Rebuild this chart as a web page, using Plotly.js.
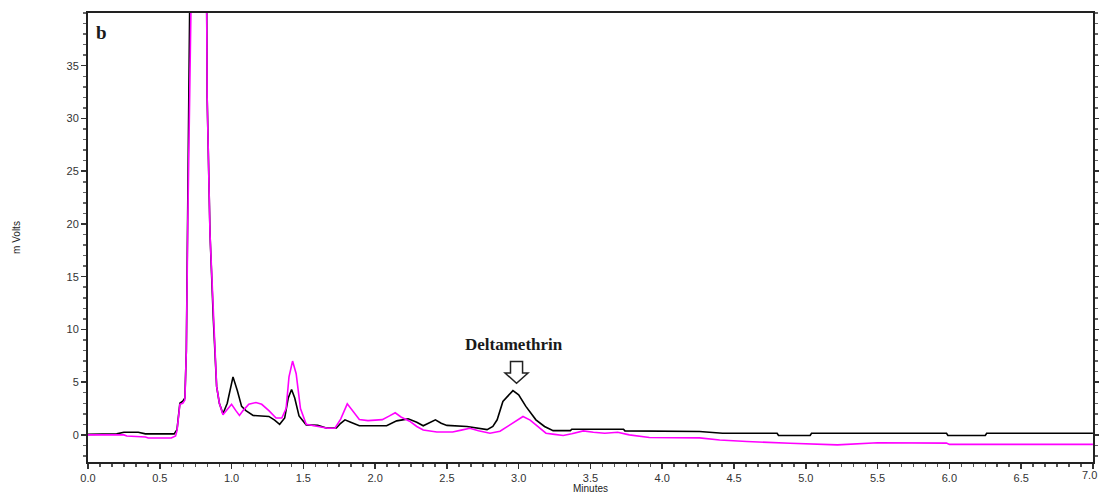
<!DOCTYPE html>
<html>
<head>
<meta charset="utf-8">
<script src="https://cdn.plot.ly/plotly-3.0.1.min.js"></script>
<style>
  html, body { margin: 0; padding: 0; background: #fff; }
  #chart { width: 1099px; height: 494px; }
</style>
</head>
<body>
<div id="chart"></div>
<script>
// Black trace (sample) – minutes / mVolts
const blackTime = [0.0, 0.2, 0.25, 0.35, 0.4, 0.6, 0.62, 0.64, 0.66, 0.675, 0.685, 0.695, 0.705, 0.715, 0.76, 0.825, 0.83, 0.85, 0.873, 0.885, 0.896, 0.915, 0.94, 0.97, 1.01, 1.04, 1.07, 1.1, 1.15, 1.26, 1.30, 1.335, 1.37, 1.395, 1.418, 1.44, 1.47, 1.52, 1.6, 1.66, 1.73, 1.76, 1.79, 1.83, 1.89, 2.08, 2.15, 2.23, 2.29, 2.335, 2.38, 2.42, 2.46, 2.5, 2.64, 2.75, 2.78, 2.82, 2.85, 2.89, 2.96, 3.0, 3.05, 3.12, 3.18, 3.24, 3.36, 3.37, 3.73, 3.74, 4.26, 4.42, 4.8, 4.81, 5.03, 5.04, 5.98, 5.99, 6.25, 6.26, 7.0];
const blackVolts = [0.05, 0.1, 0.25, 0.25, 0.1, 0.1, 0.5, 3.0, 3.2, 3.5, 8, 20, 35, 50, 80, 45, 32, 19, 11, 7, 4.6, 3.0, 2.0, 3.0, 5.5, 4.2, 2.7, 2.3, 1.85, 1.75, 1.4, 1.0, 1.6, 3.5, 4.3, 3.5, 1.8, 0.95, 0.9, 0.65, 0.65, 1.1, 1.43, 1.2, 0.86, 0.86, 1.33, 1.52, 1.2, 0.86, 1.2, 1.43, 1.1, 0.9, 0.8, 0.55, 0.5, 0.8, 1.43, 3.17, 4.2, 3.8, 2.7, 1.43, 0.8, 0.4, 0.4, 0.54, 0.54, 0.38, 0.32, 0.16, 0.16, -0.06, -0.06, 0.16, 0.16, -0.06, -0.06, 0.16, 0.16];

// Magenta trace (standard) – minutes / mVolts
const magentaTime = [0.0, 0.25, 0.27, 0.4, 0.42, 0.58, 0.61, 0.62, 0.64, 0.66, 0.675, 0.685, 0.695, 0.705, 0.715, 0.76, 0.825, 0.83, 0.85, 0.873, 0.885, 0.896, 0.915, 0.94, 0.97, 1.0, 1.03, 1.055, 1.08, 1.12, 1.17, 1.21, 1.26, 1.31, 1.35, 1.38, 1.40, 1.425, 1.45, 1.48, 1.52, 1.57, 1.62, 1.67, 1.72, 1.76, 1.806, 1.85, 1.89, 1.95, 2.05, 2.1, 2.14, 2.18, 2.24, 2.29, 2.335, 2.43, 2.54, 2.6, 2.66, 2.72, 2.8, 2.87, 2.92, 2.95, 3.03, 3.08, 3.12, 3.19, 3.25, 3.31, 3.37, 3.45, 3.52, 3.6, 3.69, 3.77, 3.91, 4.14, 4.26, 4.4, 4.59, 4.89, 5.22, 5.5, 5.98, 6.0, 7.0];
const magentaVolts = [0.0, 0.0, -0.1, -0.2, -0.3, -0.3, -0.1, 0.4, 2.9, 3.0, 3.3, 8, 20, 35, 50, 80, 45, 32, 19, 11, 7, 4.6, 3.0, 1.9, 2.4, 2.9, 2.3, 1.85, 2.3, 2.9, 3.07, 2.9, 2.3, 1.6, 1.6, 2.5, 5.5, 7.0, 5.8, 2.5, 1.0, 0.9, 0.8, 0.63, 0.63, 1.5, 2.94, 2.2, 1.45, 1.35, 1.45, 1.8, 2.1, 1.7, 1.3, 0.8, 0.47, 0.28, 0.28, 0.45, 0.63, 0.4, 0.16, 0.35, 0.8, 1.1, 1.74, 1.4, 0.95, 0.16, 0.05, -0.06, 0.1, 0.38, 0.25, 0.16, 0.25, 0.0, -0.25, -0.25, -0.28, -0.48, -0.63, -0.79, -0.95, -0.75, -0.78, -0.9, -0.9];

const xTickVals = [0.0, 0.5, 1.0, 1.5, 2.0, 2.5, 3.0, 3.5, 4.0, 4.5, 5.0, 5.5, 6.0, 6.5, 7.0];
const xTickText = ['0.0', '0.5', '1.0', '1.5', '2.0', '2.5', '3.0', '3.5', '4.0', '4.5', '5.0', '5.5', '6.0', '6.5', '7.0'];
const yTickVals = [0, 5, 10, 15, 20, 25, 30, 35];

const peakLabel = 'Deltamethrin';
const peakTime = 2.985;
const panelLabel = 'b';

const traces = [
  { x: blackTime, y: blackVolts, type: 'scatter', mode: 'lines',
    line: { color: '#000000', width: 1.6 }, hoverinfo: 'x+y', showlegend: false },
  { x: magentaTime, y: magentaVolts, type: 'scatter', mode: 'lines',
    line: { color: '#ff00ff', width: 1.6 }, hoverinfo: 'x+y', showlegend: false }
];

// hollow down arrow drawn in data coordinates around the labelled peak
const sw = 0.042, hw = 0.08, yTop = 6.97, yNeck = 5.87, yTip = 4.9;
const arrowPath = `M ${peakTime - sw} ${yTop} L ${peakTime + sw} ${yTop} L ${peakTime + sw} ${yNeck} ` +
  `L ${peakTime + hw} ${yNeck} L ${peakTime} ${yTip} L ${peakTime - hw} ${yNeck} L ${peakTime - sw} ${yNeck} Z`;

const tickFont = { family: 'Liberation Sans, Arial, sans-serif', size: 11, color: '#333333' };

// last x tick label is drawn as an annotation so it stays inside the page
const nLast = xTickText.length - 1;
const shownTickText = xTickText.map((t, i) => (i === nLast ? '' : t));

const layout = {
  width: 1099, height: 494,
  margin: { l: 88, r: 6, t: 13, b: 32 },
  paper_bgcolor: '#ffffff', plot_bgcolor: '#ffffff',
  showlegend: false,
  xaxis: {
    range: [0, 7.0005], tickvals: xTickVals, ticktext: shownTickText,
    ticks: 'outside', ticklen: 5, tickwidth: 1.5, tickcolor: '#333',
    showline: true, linecolor: '#222', linewidth: 2, mirror: true,
    showgrid: false, zeroline: false, tickfont: tickFont,
    minor: { dtick: 0.0833333, ticks: 'outside', ticklen: 3, tickcolor: '#555', showgrid: false },
    title: { text: 'Minutes', font: { family: 'Liberation Sans, Arial, sans-serif', size: 10, color: '#222' }, standoff: 5 }
  },
  yaxis: {
    range: [-2.57, 40.0], tickvals: yTickVals,
    ticks: 'outside', ticklen: 5, tickwidth: 1.5, tickcolor: '#333',
    showline: true, linecolor: '#222', linewidth: 2, mirror: 'ticks',
    showgrid: false, zeroline: false, tickfont: tickFont,
    minor: { dtick: 1, ticks: 'outside', ticklen: 3, tickcolor: '#666', showgrid: false },
    title: { text: 'm Volts', font: { family: 'Liberation Sans, Arial, sans-serif', size: 10, color: '#222' }, standoff: 44 }
  },
  shapes: [
    { type: 'path', xref: 'x', yref: 'y', path: arrowPath,
      line: { color: '#222', width: 1.5 }, fillcolor: 'rgba(255,255,255,1)' }
  ],
  annotations: [
    { xref: 'paper', yref: 'paper', x: 0.006, y: 0.985, xanchor: 'left', yanchor: 'top',
      text: '<b>' + panelLabel + '</b>', showarrow: false,
      font: { family: 'Liberation Serif, Times New Roman, serif', size: 19, color: '#1a1a1a' } },
    { xref: 'x', yref: 'y', x: peakTime - 0.02, y: 8.6, xanchor: 'center', yanchor: 'middle',
      text: '<b>' + peakLabel + '</b>', showarrow: false,
      font: { family: 'Liberation Serif, Times New Roman, serif', size: 17, color: '#1a1a1a' } },
    { xref: 'paper', yref: 'paper', x: 1, y: 0, xanchor: 'right', yanchor: 'top',
      xshift: 5, yshift: -6, borderpad: 0, text: xTickText[nLast], showarrow: false,
      font: tickFont }
  ]
};

Plotly.newPlot('chart', traces, layout, { displayModeBar: false, staticPlot: true });
</script>
</body>
</html>
